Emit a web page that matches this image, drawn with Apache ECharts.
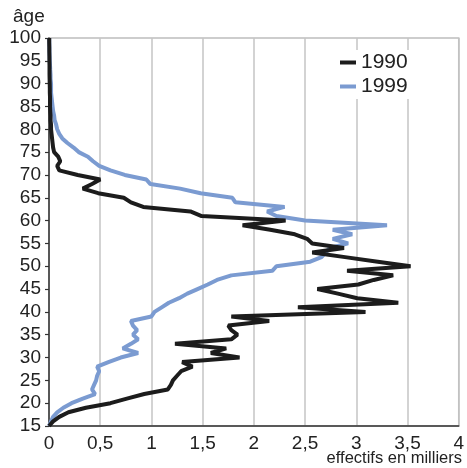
<!DOCTYPE html>
<html><head><meta charset="utf-8">
<script src="https://cdn.jsdelivr.net/npm/echarts@6/dist/echarts.min.js"></script>
<style>html,body{margin:0;padding:0;background:#fff}#c{width:467px;height:468px}</style>
</head><body><div id="c"></div>
<script>
const ages = [15,16,17,18,19,20,21,22,23,24,25,26,27,28,29,30,31,32,33,34,35,36,37,38,39,40,41,42,43,44,45,46,47,48,49,50,51,52,53,54,55,56,57,58,59,60,61,62,63,64,65,66,67,68,69,70,71,72,73,74,75,76,77,78,79,80,81,82,83,84,85,86,87,88,89,90,91,92,93,94,95,96,97,98,99,100];
const v1990 = [0,0.04,0.10,0.19,0.36,0.60,0.76,0.93,1.16,1.19,1.21,1.25,1.29,1.40,1.30,1.86,1.58,1.73,1.23,1.78,1.84,1.78,1.75,2.15,1.78,3.09,2.43,3.41,3.01,2.82,2.62,3.02,3.17,3.36,2.91,3.53,3.21,2.89,2.57,2.88,2.57,2.52,2.40,2.16,1.89,2.31,1.49,1.38,0.92,0.80,0.73,0.48,0.33,0.42,0.50,0.28,0.10,0.08,0.11,0.09,0.05,0.04,0.035,0.03,0.025,0.02,0.02,0.015,0.015,0.012,0.01,0.01,0.01,0.008,0.008,0.007,0.006,0.005,0.005,0.005,0.004,0.004,0.003,0.003,0.002,0.002];
const v1999 = [0,0.02,0.04,0.08,0.14,0.22,0.33,0.45,0.42,0.44,0.46,0.47,0.49,0.47,0.58,0.70,0.87,0.72,0.80,0.87,0.82,0.86,0.82,0.80,1.00,1.03,1.10,1.17,1.27,1.35,1.45,1.55,1.64,1.78,2.18,2.22,2.55,2.66,2.70,2.74,2.92,2.77,2.96,2.77,3.30,2.50,2.22,2.13,2.30,1.82,1.79,1.48,1.28,0.99,0.95,0.74,0.60,0.49,0.43,0.38,0.29,0.24,0.18,0.13,0.10,0.08,0.07,0.055,0.05,0.04,0.035,0.03,0.025,0.02,0.02,0.02,0.015,0.015,0.012,0.01,0.008,0.006,0.005,0.004,0.003,0.002];
const seriesNames = ['1990','1999'];
const xTickLabels = ['0','0,5','1','1,5','2','2,5','3','3,5','4'];
const yTickLabels = ['15','20','25','30','35','40','45','50','55','60','65','70','75','80','85','90','95','100'];

const FONT = '"Liberation Sans Narrow","Arial Narrow","Liberation Sans",sans-serif';
const pairs = vals => vals.map((v, i) => [v, ages[i]]);

const chart = echarts.init(document.getElementById('c'), null, {renderer: 'canvas'});
chart.setOption({
  animation: false,
  backgroundColor: '#fff',
  grid: {left: 49, right: 5, top: 38, bottom: 42, show: true, borderColor: '#bdbdbd', borderWidth: 1.5, backgroundColor: 'transparent'},
  legend: {
    data: seriesNames, orient: 'vertical', left: 336, top: 50,
    icon: 'rect', itemWidth: 16, itemHeight: 4, itemGap: 3,
    backgroundColor: '#fff', padding: [2, 6, 2, 4],
    textStyle: {fontFamily: FONT, fontSize: 21, color: '#222', padding: [0, 0, 0, 0]}
  },
  xAxis: {
    type: 'value', min: 0, max: 4, interval: 0.5,
    axisLine: {show: true, lineStyle: {color: '#333', width: 1.5}},
    axisTick: {show: false},
    splitLine: {show: true, lineStyle: {color: '#c4c4c4', width: 1.5}},
    axisLabel: {fontFamily: FONT, fontSize: 19, color: '#222', margin: 8,
      formatter: v => xTickLabels[Math.round(v / 0.5)]}
  },
  yAxis: {
    type: 'value', min: 15, max: 100, interval: 5,
    axisLine: {show: true, lineStyle: {color: '#333', width: 1.5}},
    axisTick: {show: true, length: 4, lineStyle: {color: '#333', width: 1.2}},
    splitLine: {show: false},
    axisLabel: {fontFamily: FONT, fontSize: 19, color: '#222', margin: 8,
      formatter: v => yTickLabels[Math.round((v - 15) / 5)]}
  },
  graphic: [
    {type: 'text', left: 13, top: 7, style: {text: 'âge', font: '19px ' + FONT, fill: '#222'}},
    {type: 'text', right: 5, bottom: 1, style: {text: 'effectifs en milliers', font: '16.5px ' + FONT, fill: '#222'}}
  ],
  series: [
    {name: '1999', type: 'line', data: pairs(v1999), showSymbol: false, clip: false,
     lineStyle: {color: '#7b9bd1', width: 4}, itemStyle: {color: '#7b9bd1'}},
    {name: '1990', type: 'line', data: pairs(v1990), showSymbol: false, clip: false,
     lineStyle: {color: '#1c1c1c', width: 4}, itemStyle: {color: '#1c1c1c'}}
  ]
});
</script></body></html>
